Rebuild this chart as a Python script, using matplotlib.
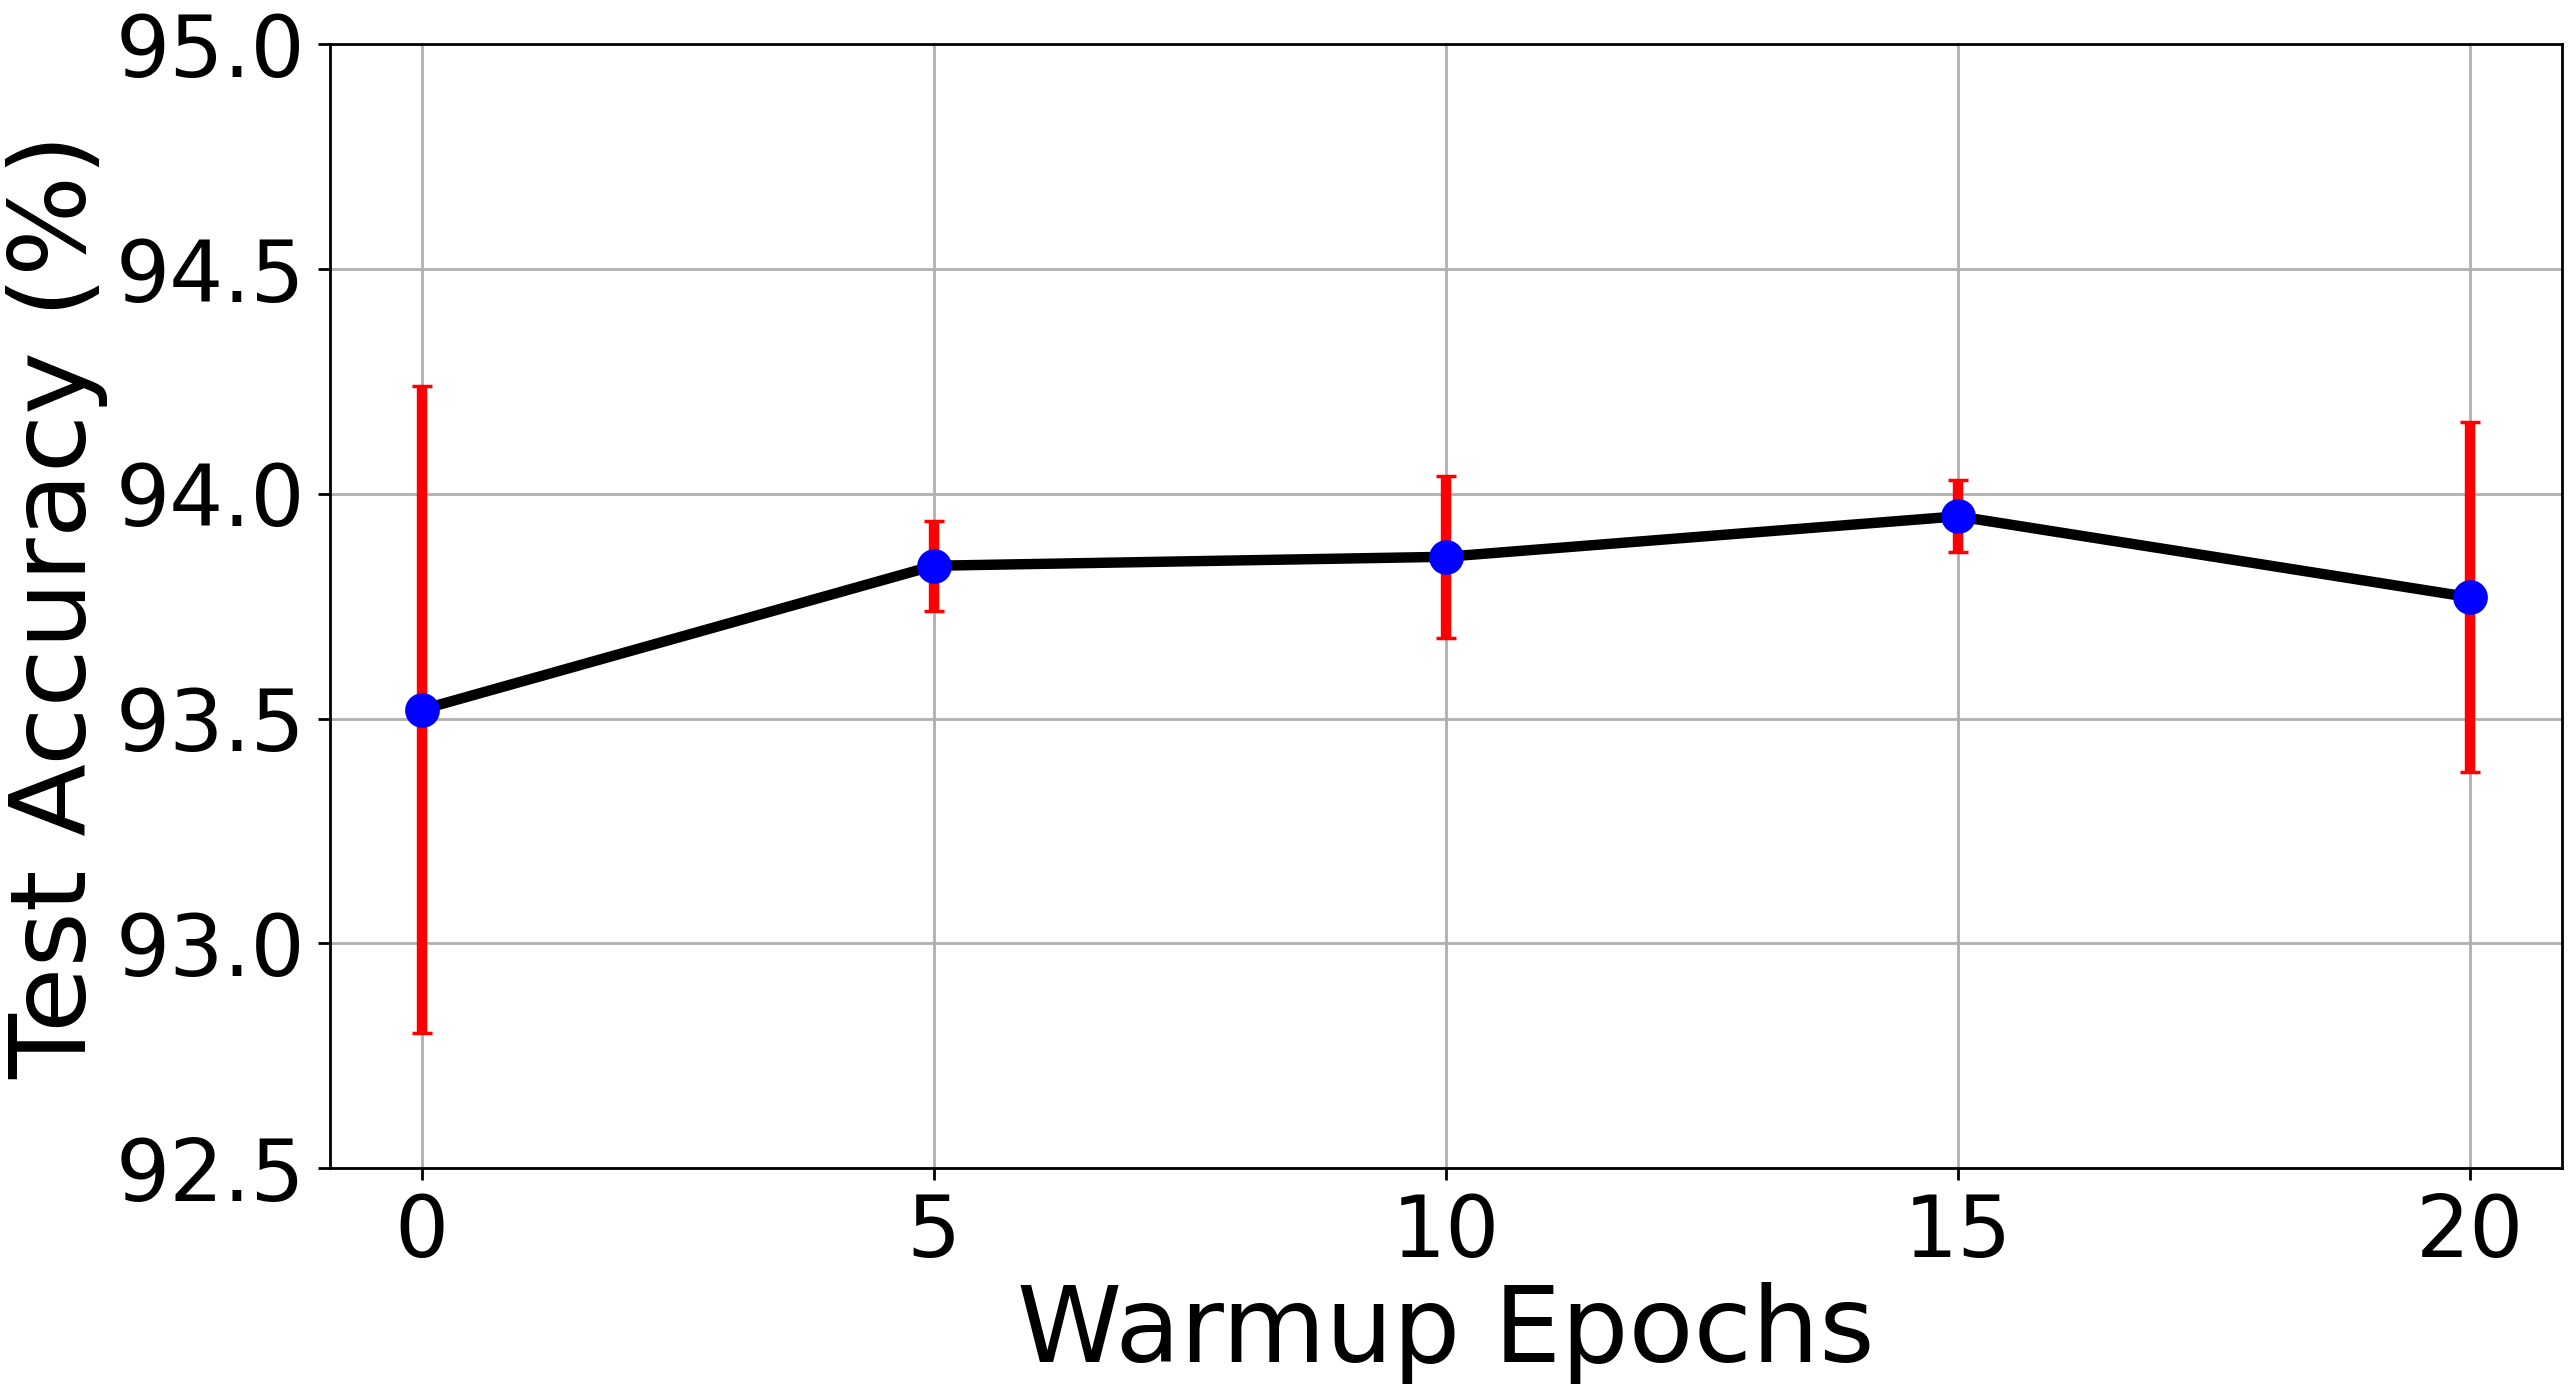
import matplotlib
matplotlib.use("Agg")
import matplotlib.pyplot as plt

# warmup epochs vs test accuracy (mean, std)
epochs = [0, 5, 10, 15, 20]
acc_mean = [93.52, 93.84, 93.86, 93.95, 93.77]
acc_std = [0.72, 0.10, 0.18, 0.08, 0.39]

yticks = [92.5, 93.0, 93.5, 94.0, 94.5, 95.0]
xticks = [0, 5, 10, 15, 20]

fig = plt.figure(figsize=(10.3, 5.552), dpi=250)
ax = fig.add_axes([0.128, 0.1585, 0.867, 0.8095])

ax.errorbar(epochs, acc_mean, yerr=acc_std, color="black", linewidth=3,
            marker="o", markersize=9, markerfacecolor="blue", markeredgecolor="blue",
            ecolor="red", elinewidth=3, capsize=3, capthick=1, zorder=3)

ax.set_ylim(92.5, 95.0)
ax.set_xlim(-0.9, 20.9)
ax.set_yticks(yticks)
ax.set_xticks(xticks)
ax.tick_params(labelsize=24.5)
ax.grid(True)
ax.set_axisbelow(True)

ax.set_xlabel("Warmup Epochs", fontsize=30.6, labelpad=2)
ax.set_ylabel("Test Accuracy (%)", fontsize=30.6, labelpad=2)

fig.savefig("out.png", dpi=250)
